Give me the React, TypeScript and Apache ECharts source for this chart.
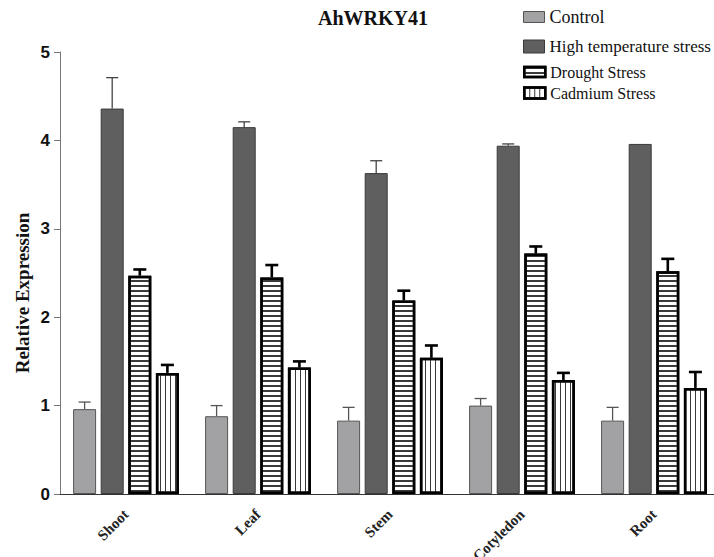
import React, { useEffect, useRef } from "react";
import * as echarts from "echarts";

const categories = ["Shoot", "Leaf", "Stem", "Cotyledon", "Root"];
const seriesNames = ["Control", "High temperature stress", "Drought Stress", "Cadmium Stress"];
const controlValues = [0.96, 0.88, 0.83, 1.0, 0.83];
const controlErrors = [0.08, 0.12, 0.15, 0.08, 0.15];
const heatValues = [4.36, 4.15, 3.63, 3.94, 3.96];
const heatErrors = [0.35, 0.06, 0.14, 0.02, 0];
const droughtValues = [2.47, 2.45, 2.19, 2.72, 2.52];
const droughtErrors = [0.07, 0.14, 0.11, 0.08, 0.14];
const cadmiumValues = [1.37, 1.43, 1.54, 1.29, 1.2];
const cadmiumErrors = [0.09, 0.07, 0.14, 0.08, 0.18];
const yTicks = [0, 1, 2, 3, 4, 5];

const BAR_W = 23;
const GAP = 0.2;

const serif = "Liberation Serif";
const sans = "Liberation Sans";

const hDecal = {
  symbol: "rect",
  symbolSize: 1,
  symbolKeepAspect: false,
  color: "#3a3a3a",
  dashArrayX: [1, 0],
  dashArrayY: [1.1, 2.9],
  rotation: 0,
};
const vDecal = {
  symbol: "rect",
  symbolSize: 1,
  symbolKeepAspect: false,
  color: "#3a3a3a",
  dashArrayX: [1, 3.6],
  dashArrayY: [1, 0],
  rotation: 0,
};

const styles = [
  { color: "#a2a2a5", borderColor: "#555", borderWidth: 1 },
  { color: "#5f5f5f", borderColor: "#3a3a3a", borderWidth: 1 },
  { color: "#ffffff", borderColor: "#000", borderWidth: 2.5, decal: hDecal },
  { color: "#ffffff", borderColor: "#000", borderWidth: 2.5, decal: vDecal },
];
const errStyles = [
  { stroke: "#555", lineWidth: 1.3, cap: 12 },
  { stroke: "#444", lineWidth: 1.3, cap: 12 },
  { stroke: "#000", lineWidth: 2.6, cap: 13 },
  { stroke: "#000", lineWidth: 2.6, cap: 13 },
];

export default function App() {
  const ref = useRef<HTMLDivElement>(null);
  useEffect(() => {
    document.body.style.margin = "0";
    const chart = echarts.init(ref.current!, null, { renderer: "svg" });
    const values = [controlValues, heatValues, droughtValues, cadmiumValues];
    const errors = [controlErrors, heatErrors, droughtErrors, cadmiumErrors];

    const barSeries = values.map((vals, k) => ({
      name: seriesNames[k],
      type: "bar",
      data: vals,
      barWidth: BAR_W,
      barGap: GAP * 100 + "%",
      itemStyle: styles[k],
      z: 2,
    }));

    const errSeries = values.map((vals, k) => ({
      name: seriesNames[k] + " error",
      type: "custom",
      z: 3,
      data: vals.map((v, i) => [i, v, errors[k][i]]),
      renderItem: (params: any, api: any) => {
        const i = api.value(0);
        const v = api.value(1);
        const e = api.value(2);
        if (!(e > 0)) return null;
        const base = api.coord([i, v]);
        const top = api.coord([i, v + e]);
        const step = BAR_W * (1 + GAP);
        const total = 4 * BAR_W + 3 * BAR_W * GAP;
        const x = base[0] - total / 2 + BAR_W / 2 + k * step;
        const s = errStyles[k];
        return {
          type: "group",
          children: [
            {
              type: "line",
              shape: { x1: x, y1: base[1], x2: x, y2: top[1] },
              style: { stroke: s.stroke, lineWidth: s.lineWidth },
            },
            {
              type: "line",
              shape: { x1: x - s.cap / 2, y1: top[1], x2: x + s.cap / 2, y2: top[1] },
              style: { stroke: s.stroke, lineWidth: s.lineWidth },
            },
          ],
        };
      },
    }));

    const legendDefs = [
      { top: 3, h: 11, size: 18 },
      { top: 33, h: 13, size: 17 },
      { top: 59, h: 10, size: 16 },
      { top: 80, h: 11, size: 16 },
    ];

    chart.setOption({
      animation: false,
      backgroundColor: "#ffffff",
      textStyle: { fontFamily: serif },
      title: {
        text: "AhWRKY41",
        left: 368,
        top: 3,
        textAlign: "center",
        textStyle: { fontFamily: serif, fontWeight: "bold", fontSize: 20, color: "#111" },
      },
      legend: legendDefs.map((d, k) => {
        const ts = { fontFamily: serif, fontSize: d.size, color: "#111" };
        return {
          left: 518,
          top: d.top,
          orient: "vertical",
          selectedMode: false,
          itemWidth: 21,
          itemHeight: d.h,
          icon: "rect",
          data: [{ name: seriesNames[k], itemStyle: styles[k] }],
          textStyle: ts,
        };
      }),
      grid: { left: 60, top: 52, width: 660, height: 442, outerBoundsMode: "none", containLabel: false },
      xAxis: {
        type: "category",
        data: categories,
        axisLine: { lineStyle: { color: "#333", width: 1 } },
        axisTick: { alignWithLabel: true, length: 5, lineStyle: { color: "#555" } },
        axisLabel: {
          rotate: 45,
          interval: 0,
          margin: 18,
          fontFamily: serif,
          fontWeight: "bold",
          fontSize: 15,
          color: "#222",
        },
      },
      yAxis: {
        type: "value",
        min: yTicks[0],
        max: yTicks[yTicks.length - 1],
        interval: 1,
        axisLine: { show: true, lineStyle: { color: "#777", width: 1 } },
        axisTick: { show: true, length: 6, lineStyle: { color: "#777" } },
        splitLine: { show: false },
        axisLabel: {
          margin: 10,
          fontFamily: sans,
          fontWeight: "bold",
          fontSize: 17,
          color: "#111",
        },
      },
      graphic: [
        {
          type: "text",
          x: 22,
          y: 293,
          rotation: Math.PI / 2,
          style: {
            text: "Relative Expression",
            align: "center",
            verticalAlign: "middle",
            fontFamily: serif,
            fontWeight: "bold",
            fontSize: 19,
            fill: "#111",
          },
        },
      ],
      series: [...barSeries, ...errSeries],
    });
    return () => chart.dispose();
  }, []);
  return <div ref={ref} style={{ width: 714, height: 557 }} />;
}
